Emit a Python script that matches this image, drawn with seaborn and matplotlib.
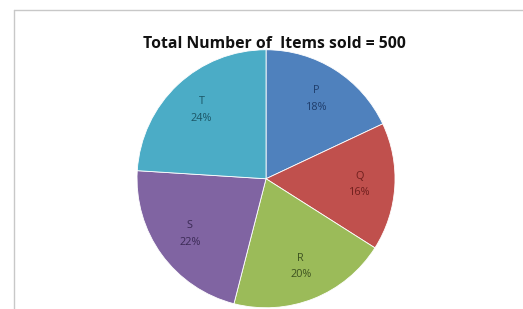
import matplotlib.pyplot as plt
import seaborn as sns
from matplotlib.lines import Line2D

items = ['P', 'Q', 'R', 'S', 'T']
shares = [18, 16, 20, 22, 24]
slice_colors = ['#4f81bd', '#c0504d', '#9bbb59', '#8064a2', '#4bacc6']
label_colors = ['#1f3d6b', '#6e1f1d', '#3d5220', '#3b2a55', '#1b5666']

sns.set_style('white')
plt.rcParams['font.family'] = ['Open Sans', 'DejaVu Sans']

fig = plt.figure(figsize=(5.23, 3.09), dpi=100)
ax = fig.add_axes([0.262, 0.004, 258 / 523, 258 / 309])

wedges, texts = ax.pie(shares, labels=['%s\n%d%%' % (i, s) for i, s in zip(items, shares)],
                       colors=slice_colors, startangle=90, counterclock=False,
                       labeldistance=0.73,
                       wedgeprops=dict(edgecolor='white', linewidth=0.6),
                       textprops=dict(fontsize=7.8, ha='center', va='center', linespacing=1.7))
for t, c in zip(texts, label_colors):
    t.set_color(c)
ax.set_xlim(-1.0, 1.0)
ax.set_ylim(-1.0, 1.0)
ax.set_aspect('equal')
ax.axis('off')

fig.text(274 / 523, 1 - 44 / 309, 'Total Number of  Items sold = 500', ha='center', va='center',
         fontsize=11.3, fontweight='bold', color='#111111')

# light frame of the sheet
fig.add_artist(Line2D([14 / 523, 1], [1 - 10 / 309, 1 - 10 / 309], color='#c8c8c8', lw=1))
fig.add_artist(Line2D([14 / 523, 14 / 523], [0, 1 - 10 / 309], color='#c8c8c8', lw=1))

fig.savefig('out.png', dpi=100, facecolor='white')
